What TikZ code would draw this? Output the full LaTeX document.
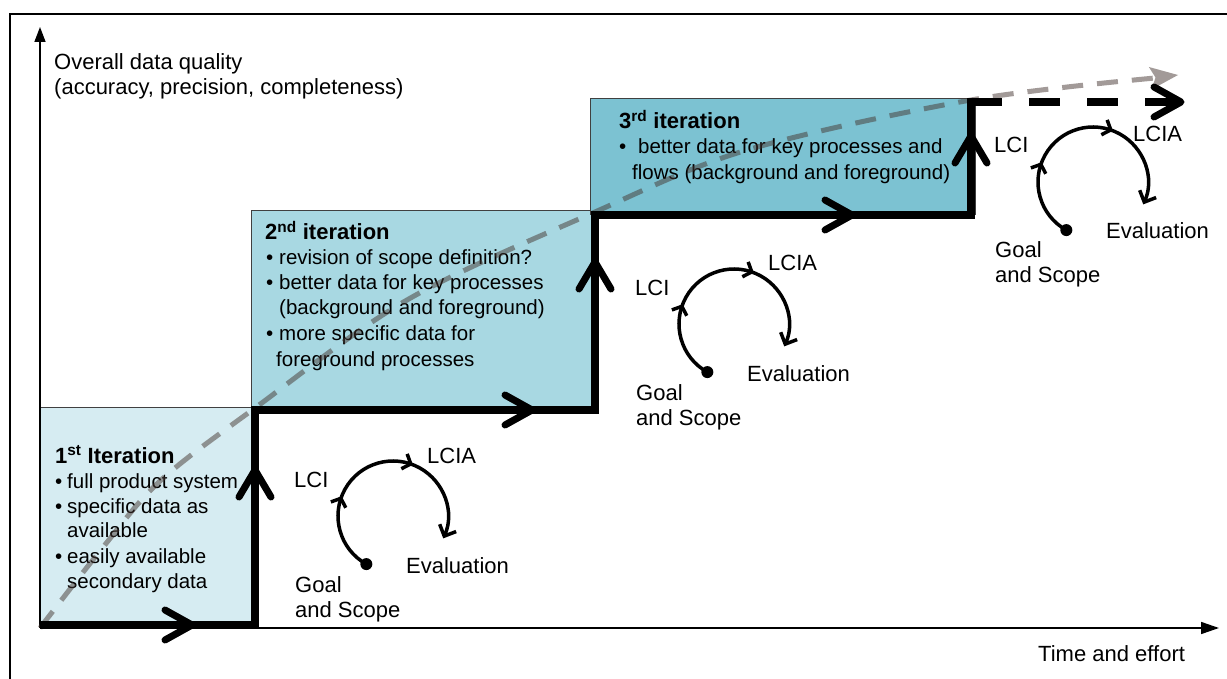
\documentclass[tikz,border=0pt]{standalone}
\usepackage{fontspec}
\setmainfont{Liberation Sans}
\usetikzlibrary{arrows.meta,decorations.markings,calc}
\definecolor{boxA}{RGB}{214,236,242}
\definecolor{boxB}{RGB}{168,216,226}
\definecolor{boxC}{RGB}{124,194,210}
\definecolor{trend}{RGB}{70,55,50}
\begin{document}
\begin{tikzpicture}[x=1pt,y=-1pt,
  lbl/.style={anchor=base west, inner sep=0pt, font=\fontsize{22}{26}\selectfont},
  btxt/.style={anchor=base west, inner sep=0pt, font=\fontsize{20.5}{24}\selectfont},
  btitle/.style={anchor=base west, inner sep=0pt, font=\fontsize{22}{26}\selectfont\bfseries},
  iterbox/.style={draw=black!75, line width=1pt},
  stair/.style={line width=8pt, line join=miter},
  chev/.style={line width=7pt, line cap=round, line join=round},
  axisline/.style={line width=1.6pt},
  trendline/.style={draw=trend, draw opacity=0.5, line width=5pt, dash pattern=on 21pt off 14pt},
  trendhead/.style={fill=trend, fill opacity=0.5},
  cyc/.style={line width=3.5pt,
    -{Straight Barb[length=9pt,width=18pt]},
    postaction={decorate},
    decoration={markings,
      mark=at position 0.31 with {\arrow{Straight Barb[length=7pt,width=16pt]}},
      mark=at position 0.65 with {\arrow{Straight Barb[length=7pt,width=16pt]}}}},
  dotn/.style={circle, fill=black, inner sep=0pt, minimum size=12pt},
  chevright/.pic={\draw[chev] (-27,-15) -- (0,0) -- (-27,15);},
  chevup/.pic={\draw[chev] (-16,27) -- (0,0) -- (16,27);},
]
\useasboundingbox (0,0) rectangle (1227,679);
\fill[white] (0,0) rectangle (1227,679);

% outer frame
\draw[line width=2.5pt, line join=miter] (10,679) -- (10,14) -- (1227,14);

% iteration boxes
\draw[iterbox, fill=boxA] (40,407) rectangle (253,628);
\draw[iterbox, fill=boxB] (251,211) rectangle (597,410);
\draw[iterbox, fill=boxC] (590,99) rectangle (975,215);

% axes
\coordinate (O) at (40,628);
\coordinate (ytop) at (40,27);
\coordinate (xend) at (1219,628);
\draw[axisline, -{Triangle[length=15pt,width=11pt]}] (O) -- (ytop);
\draw[axisline, -{Triangle[length=18pt,width=12pt]}] (O) -- (xend);
\node[lbl] (ylab1) at (54,70) {Overall data quality};
\node[lbl] (ylab2) at (54,95) {(accuracy, precision, completeness)};
\node[lbl] (xlab) at (1038,661) {Time and effort};

% box 1 text
\node[btitle] (t1) at (55,463) {1\textsuperscript{st} Iteration};
\node[btxt] (t1a) at (55,488) {\makebox[12pt][l]{•}full product system};
\node[btxt] (t1b) at (55,513) {\makebox[12pt][l]{•}specific data as};
\node[btxt] (t1c) at (67,537) {available};
\node[btxt] (t1d) at (55,563) {\makebox[12pt][l]{•}easily available};
\node[btxt] (t1e) at (67,588) {secondary data};

% box 2 text
\node[btitle] (t2) at (265,240) {2\textsuperscript{nd} iteration};
\node[btxt] (t2a) at (266,265) {\makebox[13pt][l]{•}revision of scope definition?};
\node[btxt] (t2b) at (266,290) {\makebox[13pt][l]{•}better data for key processes};
\node[btxt] (t2c) at (279,315) {(background and foreground)};
\node[btxt] (t2d) at (266,341) {\makebox[13pt][l]{•}more specific data for};
\node[btxt] (t2e) at (276,366) {foreground processes};

% box 3 text
\node[btitle] (t3) at (619,129) {3\textsuperscript{rd} iteration};
\node[btxt] (t3a) at (619,154) {\makebox[19pt][l]{•}better data for key processes and};
\node[btxt] (t3b) at (632,180) {flows (background and foreground)};

% trend curve
\draw[trendline]
  plot[smooth, tension=0.55] coordinates {(40,628) (100,551) (160,481) (255,408) (407,300) (595,212) (747,150) (971,100) (1155,78)};
\coordinate (tip) at (1178,75);
\coordinate (tbl) at (1151.5,89.5);
\coordinate (tbu) at (1148.9,67);
\coordinate (tin) at (1155.5,77.5);
\fill[trendhead] (tip) -- (tbl) -- (tin) -- (tbu) -- cycle;

% staircase
\coordinate (s0) at (40,625);
\coordinate (s1) at (255,625);
\coordinate (s2) at (255,410);
\coordinate (s3) at (595,410);
\coordinate (s4) at (595,215);
\coordinate (s5) at (971,215);
\coordinate (s6) at (971,102);
\coordinate (s7) at (1002,102);
\coordinate (s8) at (1176,102);
\draw[stair] (s0) -- (s1) -- (s2) -- (s3) -- (s4) -- (s5) -- (s6) -- (s7);
\draw[line width=8pt, dash pattern=on 31pt off 27pt, dash phase=31pt] (s7) -- (s8);

\pic (c1) at (192,625) {chevright};
\pic (c2) at (255,470) {chevup};
\pic (c3) at (532,410) {chevright};
\pic (c4) at (595,262) {chevup};
\pic (c5) at (852,215) {chevright};
\pic (c6) at (971,136) {chevup};
\pic (c7) at (1181,102) {chevright};

% LCA cycles
\foreach \n/\dx/\dy/\ax/\ay in {1/0/0/0/0, 2/341/-192/0/0, 3/700/-334/6/13} {
  \begin{scope}[shift={(\dx,\dy)}]
    \coordinate (cc\n) at (393,516);
    \node[dotn] (gdot\n) at ($(cc\n)+(119:55)$) {};
    \draw[cyc] (gdot\n.center) arc[start angle=-241, end angle=24, radius=55];
    \node[lbl] (lci\n) at (294,487) {LCI};
    \node[lbl] (lcia\n) at (427+\ax,463+\ay) {LCIA};
    \node[lbl] (eval\n) at (406,573) {Evaluation};
    \node[lbl] (goal\n) at (295,592) {Goal};
    \node[lbl] (scope\n) at (295,617) {and Scope};
  \end{scope}
}
\end{tikzpicture}
\end{document}
